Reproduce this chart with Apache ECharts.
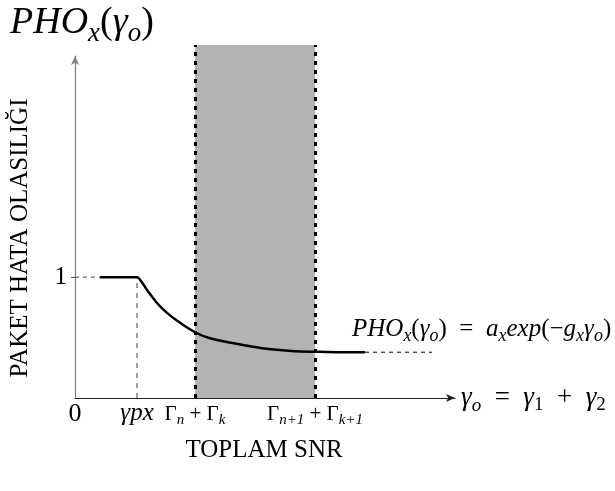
<!DOCTYPE html>
<html>
<head>
<meta charset="utf-8">
<script src="https://cdn.jsdelivr.net/npm/echarts@6/dist/echarts.min.js"></script>
<style>html,body{margin:0;padding:0;background:#fff}#c{width:615px;height:491px}</style>
</head>
<body>
<div id="c"></div>
<script>
// ---- data ----
const xTickValues = [0, 3.1, 6, 12];
const yTickValues = [1];
const bandStart = 6;
const bandEnd = 12;
const gammaPx = 3.1;
const flatX = [1.25, 3.1];
const flatY = [1, 1];
const decayX = [3.6, 4.1, 4.6, 5.25, 6, 6.75, 7.65, 9.35, 11, 12, 13.15, 14.5];
const decayY = [0.893, 0.786, 0.704, 0.622, 0.544, 0.494, 0.461, 0.412, 0.387, 0.383, 0.379, 0.379];
const tailX = [14.5, 17.85];
const tailY = [0.379, 0.379];
const guideX = [0, 1.25];
const guideY = [1, 1];

const FF = "'Liberation Serif', 'DejaVu Serif', serif";
function richSet(s) {
  return {
    it: {fontFamily: FF, fontStyle: 'italic', fontWeight: 'normal', fontSize: s, color: '#000'},
    rm: {fontFamily: FF, fontWeight: 'normal', fontSize: s, color: '#000'},
    sub: {fontFamily: FF, fontStyle: 'italic', fontWeight: 'normal', fontSize: Math.round(s * 0.7), color: '#000', padding: [Math.round(s * 0.55), 0, 0, 0]},
    subr: {fontFamily: FF, fontWeight: 'normal', fontSize: Math.round(s * 0.7), color: '#000', padding: [Math.round(s * 0.55), 0, 0, 0]}
  };
}
const pair = (xs, ys) => xs.map((x, i) => [x, ys[i]]);
const curveData = pair(flatX, flatY).concat(pair(decayX, decayY));

const chart = echarts.init(document.getElementById('c'), null, {renderer: 'canvas'});
chart.setOption({
  animation: false,
  backgroundColor: '#fff',
  grid: [
    {left: 75, right: 160, top: 56, bottom: 93},
    {left: 75, right: 160, top: 45, bottom: 93}
  ],
  title: [
    {text: '{it|PHO}{sub|x}{rm|(}{it|γ}{sub|o}{rm|)}', left: 5, top: -6, textStyle: {fontWeight: 'normal', rich: richSet(38)}},
    {text: 'TOPLAM SNR', left: 259, top: 433, textAlign: 'center', textStyle: {fontFamily: FF, fontSize: 25, fontWeight: 'normal', color: '#000'}}
  ],
  graphic: [
    {type: 'text', left: 352, top: 317, style: {
      text: '{it|PHO}{sub|x}{rm|(}{it|γ}{sub|o}{rm|)  =  }{it|a}{sub|x}{it|exp}{rm|(−}{it|g}{sub|x}{it|γ}{sub|o}{rm|)}',
      rich: richSet(25)}},
    {type: 'text', x: 20, y: 238, rotation: Math.PI / 2, style: {
      text: 'PAKET HATA OLASILIĞI', align: 'center', verticalAlign: 'middle',
      font: "25px 'Liberation Serif', serif", fill: '#000'}}
  ],
  xAxis: [{
    type: 'value', min: 0, max: 19, gridIndex: 0,
    name: '{it|γ}{sub|o}{rm|  =  }{it|γ}{subr|1}{rm|  +  }{it|γ}{subr|2}',
    nameLocation: 'end', nameGap: 6,
    nameTextStyle: {rich: richSet(27), align: 'left', verticalAlign: 'middle'},
    axisLine: {show: true, symbol: ['none', 'arrow'], symbolSize: [6, 9], lineStyle: {color: '#222', width: 1.2}},
    axisTick: {show: false},
    splitLine: {show: false},
    axisLabel: {
      customValues: xTickValues, margin: 3,
      formatter: function (v) {
        if (v === 0) return '{zero|0}';
        if (Math.abs(v - 3.1) < 1e-6) return '{gp|γpx}';
        if (v === 6) return '{rm|Γ}{sub|n}{rm| + Γ}{sub|k}';
        if (v === 12) return '{rm|Γ}{sub|n+1}{rm| + Γ}{sub|k+1}';
        return '';
      },
      rich: Object.assign(richSet(21), {
        zero: {fontFamily: FF, fontSize: 26, color: '#000'},
        gp: {fontFamily: FF, fontStyle: 'italic', fontSize: 25, color: '#000'}
      })
    }
  }, {
    type: 'value', min: 0, max: 19, gridIndex: 1, show: false
  }],
  yAxis: [{
    type: 'value', min: 0, max: 2.83, gridIndex: 0,
    axisLine: {show: true, symbol: ['none', 'arrow'], symbolSize: [6, 9], lineStyle: {color: '#808080', width: 1.2}},
    axisTick: {show: true, customValues: yTickValues, length: 4, lineStyle: {color: '#555'}},
    splitLine: {show: false},
    axisLabel: {customValues: yTickValues, fontFamily: FF, fontSize: 25, color: '#000', margin: 8}
  }, {
    type: 'value', min: 0, max: 1, gridIndex: 1, show: false
  }],
  series: [
    {
      type: 'line', xAxisIndex: 1, yAxisIndex: 1, data: [], symbol: 'none', z: 1,
      markArea: {silent: true, itemStyle: {color: '#b3b3b3'}, data: [[{xAxis: bandStart}, {xAxis: bandEnd}]]},
      markLine: {silent: true, symbol: 'none', label: {show: false},
        lineStyle: {color: '#000', width: 3, type: [4, 5]},
        data: [{xAxis: bandStart}, {xAxis: bandEnd}]}
    },
    {
      type: 'line', data: pair(guideX, guideY), symbol: 'none', z: 3,
      lineStyle: {color: '#444', width: 1, type: [4, 4]}
    },
    {
      type: 'line', data: [[gammaPx, 0], [gammaPx, 1]], symbol: 'none', z: 3,
      lineStyle: {color: '#808080', width: 1.5, type: [5, 5]}
    },
    {
      type: 'line', data: curveData, symbol: 'none', smooth: 0.2, z: 5,
      lineStyle: {color: '#000', width: 2.5}
    },
    {
      type: 'line', data: pair(tailX, tailY), symbol: 'none', z: 4,
      lineStyle: {color: '#000', width: 1, type: [4, 4]}
    }
  ]
});
</script>
</body>
</html>
